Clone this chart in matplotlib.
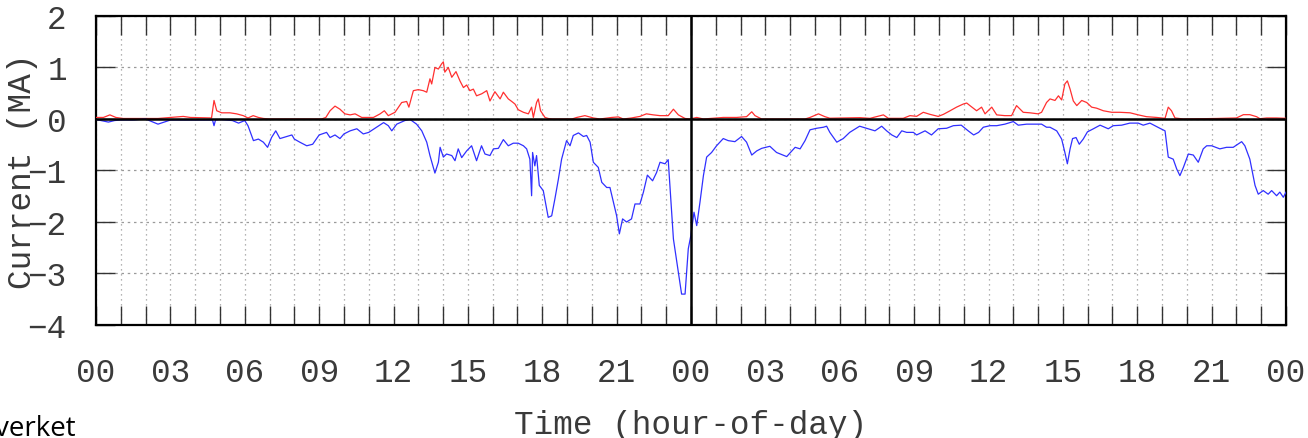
import matplotlib
matplotlib.use("Agg")
import matplotlib.pyplot as plt
from matplotlib.ticker import MultipleLocator, FixedLocator

# hours since the first midnight, two days of data
neg_hours = [0.0, 0.5, 0.75, 1.0, 1.5, 2.0, 2.5, 3.0, 3.5, 4.0, 4.5, 4.7, 4.76, 4.82, 5.0, 5.5, 5.75, 6.0,
             6.13, 6.35, 6.55, 6.75, 6.92, 7.08, 7.25, 7.42, 7.7, 7.9, 8.0, 8.22, 8.5, 8.74, 9.0, 9.3,
             9.44, 9.64, 9.84, 10.0, 10.25, 10.52, 10.78, 11.0, 11.32, 11.6, 11.79, 11.93, 12.13, 12.46,
             12.67, 12.93, 13.14, 13.34, 13.47, 13.67, 13.81, 13.88, 14.01, 14.14, 14.35, 14.48, 14.61,
             14.75, 14.95, 15.15, 15.35, 15.55, 15.69, 15.89, 16.03, 16.23, 16.43, 16.63, 16.83, 17.03,
             17.24, 17.37, 17.5, 17.57, 17.61, 17.7, 17.77, 17.88, 18.04, 18.15, 18.24, 18.38, 18.51,
             18.65, 18.78, 18.98, 19.12, 19.25, 19.46, 19.66, 19.79, 19.93, 20.06, 20.26, 20.4, 20.6,
             20.73, 20.87, 21.0, 21.11, 21.24, 21.4, 21.6, 21.74, 21.94, 22.08, 22.24, 22.45, 22.61,
             22.75, 22.95, 23.08, 23.29, 23.45, 23.62, 23.76, 23.89, 23.99, 24.12, 24.23, 24.36, 24.5,
             24.63, 24.83, 25.03, 25.3, 25.5, 25.77, 26.04, 26.24, 26.45, 26.65, 26.85, 27.18, 27.45,
             27.86, 28.2, 28.4, 28.6, 28.8, 29.07, 29.34, 29.47, 29.6, 29.88, 30.14, 30.4, 30.8, 31.15,
             31.42, 31.69, 31.89, 32.1, 32.3, 32.5, 32.7, 32.97, 33.1, 33.44, 33.7, 33.97, 34.31, 34.58,
             34.9, 35.18, 35.4, 35.6, 35.79, 36.06, 36.33, 36.66, 37.0, 37.2, 37.54, 37.87, 38.14, 38.34,
             38.48, 38.75, 38.95, 39.08, 39.18, 39.29, 39.39, 39.53, 39.66, 39.82, 39.99, 40.23, 40.5,
             40.83, 41.03, 41.37, 41.7, 42.04, 42.24, 42.51, 42.91, 43.12, 43.25, 43.45, 43.59, 43.72,
             43.86, 44.06, 44.26, 44.46, 44.66, 44.8, 45.0, 45.33, 45.6, 45.87, 46.21, 46.34, 46.54,
             46.75, 46.88, 47.08, 47.28, 47.42, 47.62, 47.75, 47.89, 48.0]
neg_current = [-0.01, -0.06, -0.03, -0.02, -0.02, 0.0, -0.10, -0.02, -0.02, -0.02, -0.02, -0.02, -0.13, -0.02,
               -0.01, -0.03, -0.08, -0.03, -0.13, -0.42, -0.39, -0.45, -0.55, -0.36, -0.23, -0.38, -0.34,
               -0.31, -0.39, -0.45, -0.52, -0.49, -0.31, -0.26, -0.36, -0.31, -0.38, -0.29, -0.23, -0.19,
               -0.29, -0.26, -0.16, -0.07, -0.13, -0.23, -0.10, -0.03, -0.01, -0.10, -0.23, -0.45, -0.71,
               -1.05, -0.84, -0.55, -0.74, -0.68, -0.71, -0.81, -0.58, -0.75, -0.62, -0.52, -0.81, -0.52,
               -0.68, -0.71, -0.58, -0.57, -0.40, -0.52, -0.47, -0.47, -0.52, -0.58, -0.78, -1.49, -0.65,
               -0.91, -0.71, -1.29, -1.39, -1.68, -1.91, -1.88, -1.55, -1.17, -0.78, -0.42, -0.52, -0.32,
               -0.27, -0.34, -0.32, -0.45, -0.84, -0.94, -1.23, -1.33, -1.33, -1.62, -1.88, -2.23, -1.94,
               -2.0, -1.94, -1.65, -1.65, -1.42, -1.09, -1.20, -1.04, -0.84, -0.87, -0.79, -2.33, -2.85,
               -3.40, -3.40, -2.52, -2.27, -1.81, -2.07, -1.62, -1.10, -0.74, -0.65, -0.52, -0.38, -0.42,
               -0.44, -0.34, -0.45, -0.70, -0.62, -0.57, -0.53, -0.65, -0.73, -0.55, -0.58, -0.42, -0.21,
               -0.18, -0.16, -0.14, -0.26, -0.45, -0.38, -0.26, -0.14, -0.19, -0.23, -0.14, -0.23, -0.31,
               -0.36, -0.23, -0.26, -0.26, -0.31, -0.23, -0.31, -0.19, -0.18, -0.13, -0.12, -0.23, -0.31,
               -0.26, -0.16, -0.13, -0.13, -0.10, -0.05, -0.12, -0.10, -0.10, -0.10, -0.16, -0.16, -0.23,
               -0.39, -0.65, -0.87, -0.58, -0.38, -0.36, -0.49, -0.39, -0.25, -0.19, -0.12, -0.19, -0.13,
               -0.12, -0.08, -0.08, -0.12, -0.08, -0.18, -0.23, -0.74, -0.78, -0.97, -1.10, -0.94, -0.68,
               -0.70, -0.84, -0.58, -0.52, -0.52, -0.58, -0.55, -0.55, -0.44, -0.52, -0.78, -1.29, -1.46,
               -1.39, -1.46, -1.39, -1.49, -1.42, -1.52, -1.42]

pos_hours = [0.0, 0.3, 0.56, 0.8, 1.1, 2.5, 3.52, 3.8, 4.66, 4.76, 4.87, 5.07, 5.4, 5.67, 5.94, 6.13, 6.34,
             6.55, 6.75, 7.0, 9.1, 9.27, 9.44, 9.64, 9.84, 10.04, 10.25, 10.45, 10.72, 11.19, 11.46, 11.63,
             11.79, 12.06, 12.33, 12.53, 12.62, 12.8, 13.0, 13.2, 13.34, 13.47, 13.54, 13.67, 13.81, 13.94,
             14.01, 14.07, 14.21, 14.35, 14.52, 14.68, 14.82, 14.95, 15.08, 15.22, 15.35, 15.56, 15.76,
             15.89, 16.09, 16.3, 16.43, 16.63, 16.77, 16.9, 17.03, 17.24, 17.44, 17.57, 17.64, 17.77, 17.84,
             17.93, 18.11, 18.24, 18.4, 19.2, 19.39, 19.72, 20.06, 20.33, 20.8, 21.07, 21.27, 21.6, 21.94,
             22.2, 22.48, 22.75, 23.08, 23.29, 23.49, 23.76, 23.96, 24.23, 24.5, 25.03, 25.3, 25.57, 25.84,
             26.24, 26.45, 26.58, 26.85, 28.6, 28.8, 29.14, 29.4, 29.6, 30.14, 30.82, 31.22, 31.76, 31.96,
             32.56, 32.83, 33.1, 33.37, 33.64, 33.97, 34.18, 34.45, 34.71, 34.98, 35.12, 35.25, 35.52,
             35.72, 35.86, 36.13, 36.33, 36.66, 36.93, 37.13, 37.4, 37.67, 38.0, 38.14, 38.34, 38.48,
             38.68, 38.82, 38.95, 39.08, 39.18, 39.29, 39.42, 39.56, 39.76, 39.96, 40.16, 40.36, 40.63,
             40.97, 41.3, 41.71, 42.04, 42.37, 42.78, 43.12, 43.25, 43.38, 43.52, 43.86, 45.2, 46.0, 46.28,
             46.54, 46.81, 46.95, 47.22, 47.62, 48.0]
pos_current = [0.03, 0.03, 0.08, 0.03, 0.01, 0.01, 0.05, 0.03, 0.02, 0.36, 0.16, 0.12, 0.12, 0.10, 0.065,
               0.02, 0.065, 0.03, 0.01, 0.0, 0.0, 0.03, 0.16, 0.25, 0.19, 0.10, 0.08, 0.10, 0.03, 0.03,
               0.10, 0.16, 0.065, 0.13, 0.32, 0.34, 0.23, 0.55, 0.57, 0.55, 0.52, 0.78, 0.68, 1.0, 0.97,
               1.07, 1.11, 0.91, 1.0, 0.81, 0.92, 0.74, 0.61, 0.66, 0.55, 0.58, 0.45, 0.49, 0.55, 0.35,
               0.53, 0.39, 0.52, 0.39, 0.34, 0.29, 0.18, 0.13, 0.10, 0.23, 0.03, 0.32, 0.39, 0.16, 0.03,
               0.01, 0.0, 0.0, 0.03, 0.065, 0.02, 0.0, 0.03, 0.04, 0.0, 0.02, 0.05, 0.10, 0.08, 0.065,
               0.065, 0.19, 0.08, 0.01, 0.0, 0.03, 0.0, 0.02, 0.03, 0.03, 0.03, 0.045, 0.14, 0.065, 0.0,
               0.0, 0.03, 0.10, 0.045, 0.015, 0.02, 0.026, 0.013, 0.08, 0.013, 0.013, 0.065, 0.052, 0.13,
               0.09, 0.05, 0.09, 0.16, 0.23, 0.29, 0.31, 0.26, 0.16, 0.23, 0.10, 0.23, 0.08, 0.065, 0.065,
               0.26, 0.13, 0.12, 0.10, 0.13, 0.32, 0.39, 0.36, 0.45, 0.37, 0.68, 0.74, 0.58, 0.35, 0.26,
               0.36, 0.32, 0.23, 0.21, 0.16, 0.13, 0.13, 0.12, 0.08, 0.045, 0.03, 0.013, 0.23, 0.16, 0.02,
               0.0, 0.01, 0.02, 0.084, 0.084, 0.045, 0.006, 0.02, 0.02, 0.013]

hour_labels = ["00", "03", "06", "09", "12", "15", "18", "21"] * 2 + ["00"]

FONT = "Liberation Mono"
FS = 23.5
TXT = "#3a3a3a"

fig = plt.figure(figsize=(13.08, 4.39), dpi=100)
ax = fig.add_axes([0.0734, 0.2574, 0.9098, 0.7039])

ax.plot(pos_hours, pos_current, color="#ff3030", lw=0.9, zorder=3)
ax.plot(neg_hours, neg_current, color="#3030ff", lw=0.9, zorder=3)

# zero line and day separator
ax.axhline(0, color="black", lw=1.8, zorder=4)
ax.axvline(24, color="black", lw=1.8, zorder=4)

ax.set_xlim(0, 48)
ax.set_ylim(-4, 2)

ax.xaxis.set_major_locator(FixedLocator(range(0, 49, 3)))
ax.set_xticklabels(hour_labels)
ax.xaxis.set_minor_locator(MultipleLocator(1))
ax.yaxis.set_major_locator(MultipleLocator(1))

ax.tick_params(axis="both", which="both", direction="in", top=True, right=True,
               length=13.5, width=1.0, color="#333333")
ax.tick_params(axis="x", which="major", pad=23, labelsize=FS, labelcolor=TXT)
ax.tick_params(axis="y", which="major", pad=21, labelsize=FS, labelcolor=TXT)
for lab in ax.get_xticklabels() + ax.get_yticklabels():
    lab.set_fontfamily(FONT)

ax.grid(axis="x", which="both", color="#9a9a9a", lw=0.9, linestyle=(0, (1, 3)))
ax.grid(axis="y", which="major", color="#9a9a9a", lw=0.9, linestyle=(0, (2, 3)))

for sp in ax.spines.values():
    sp.set_linewidth(1.6)
    sp.set_color("black")

ax.set_xlabel("Time (hour-of-day)", fontsize=FS, family=FONT, color=TXT)
ax.xaxis.set_label_coords(0.5, -0.272)
ax.set_ylabel("Current (MA)", fontsize=FS, family=FONT, color=TXT)
ax.yaxis.set_label_coords(-0.049, 0.5)

fig.text(-0.004, 0.006, "verket", fontsize=20, family="Open Sans", color="black")

fig.savefig("out.png", dpi=100)
